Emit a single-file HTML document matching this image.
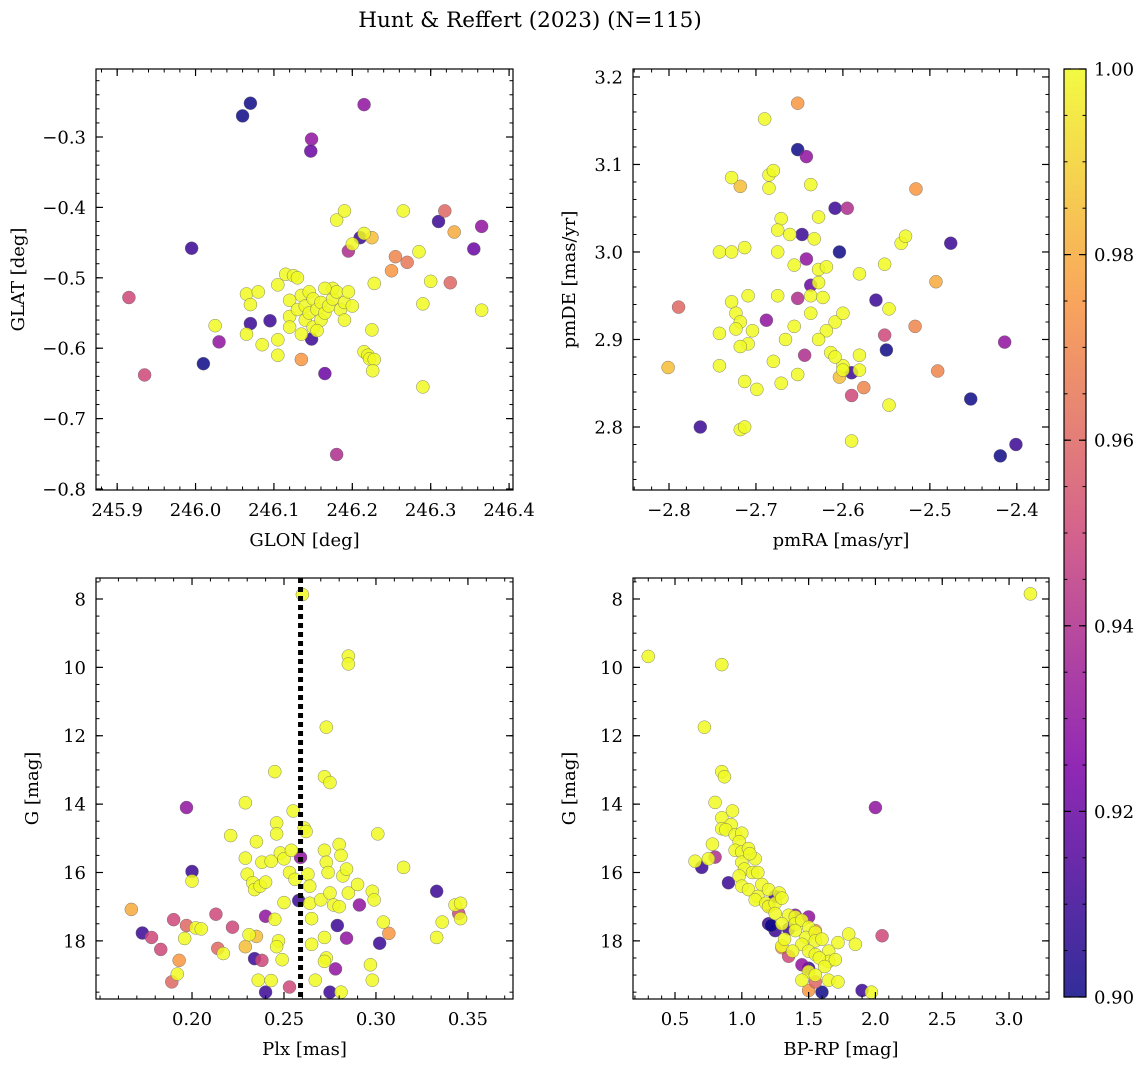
<!DOCTYPE html>
<html><head><meta charset="utf-8">
<style>
body{margin:0;background:#fff;}
svg{display:block;}
text{font-family:"DejaVu Serif","Liberation Serif",serif;fill:#000;}
</style></head>
<body>
<svg id="fig" width="1148" height="1068" xmlns="http://www.w3.org/2000/svg">
<text x="530" y="27" font-size="21.5" text-anchor="middle">Hunt &amp; Reffert (2023) (N=115)</text>
</svg>
<script>
// ---- data: panel 1 (GLON, GLAT, probability)
const glon=[246.06,246.07,246.215,246.148,246.147,245.995,245.915,245.935,246.01,246.03,246.07,246.095,246.165,246.18,246.195,246.21,246.31,246.318,246.33,246.325,246.355,246.365,246.25,246.255,246.27,246.225,246.135,246.148,
246.18,246.19,246.2,246.215,246.265,246.285,246.3,246.228,246.29,246.365,246.29,246.225,246.215,246.22,246.222,246.228,246.226,246.025,246.065,246.07,246.065,246.08,246.085,246.105,246.105,246.105,246.115,246.125,246.13,246.12,246.12,246.12,246.13,246.135,246.14,246.14,246.145,246.145,246.15,246.15,246.155,246.16,246.16,246.165,246.17,246.175,246.175,246.18,246.185,246.19,246.19,246.2,246.155,246.135,246.195,246.165];
const glat=[-0.27,-0.252,-0.254,-0.303,-0.32,-0.458,-0.528,-0.638,-0.622,-0.591,-0.565,-0.561,-0.636,-0.751,-0.462,-0.443,-0.42,-0.405,-0.435,-0.507,-0.459,-0.427,-0.49,-0.47,-0.478,-0.443,-0.616,-0.587,
-0.418,-0.405,-0.452,-0.437,-0.405,-0.463,-0.505,-0.508,-0.537,-0.546,-0.655,-0.574,-0.605,-0.61,-0.615,-0.616,-0.632,-0.568,-0.523,-0.538,-0.58,-0.52,-0.595,-0.51,-0.588,-0.61,-0.495,-0.497,-0.5,-0.532,-0.555,-0.57,-0.545,-0.525,-0.54,-0.56,-0.52,-0.55,-0.53,-0.57,-0.545,-0.535,-0.56,-0.55,-0.54,-0.53,-0.515,-0.52,-0.545,-0.535,-0.56,-0.54,-0.575,-0.58,-0.52,-0.515];
const prob1=[0.90,0.90,0.93,0.93,0.92,0.91,0.95,0.95,0.90,0.93,0.91,0.91,0.92,0.94,0.94,0.91,0.91,0.96,0.98,0.96,0.92,0.93,0.975,0.97,0.965,0.985,0.975,0.91];
// ---- data: panel 2 (pmRA, pmDE, probability)
const pmra=[-2.652,-2.652,-2.642,-2.609,-2.595,-2.604,-2.647,-2.642,-2.476,-2.516,-2.493,-2.562,-2.552,-2.550,-2.517,-2.491,-2.414,-2.453,-2.419,-2.401,-2.789,-2.801,-2.764,-2.590,-2.576,-2.590,-2.604,-2.644,-2.652,-2.688,-2.718,-2.637,
-2.690,-2.728,-2.685,-2.680,-2.637,-2.685,-2.671,-2.628,-2.675,-2.661,-2.633,-2.742,-2.728,-2.713,-2.675,-2.656,-2.628,-2.581,-2.552,-2.533,-2.528,-2.619,-2.628,-2.637,-2.623,-2.637,-2.656,-2.666,-2.675,-2.709,-2.728,-2.723,-2.718,-2.723,-2.704,-2.709,-2.718,-2.742,-2.742,-2.713,-2.699,-2.680,-2.671,-2.652,-2.609,-2.619,-2.614,-2.600,-2.609,-2.581,-2.600,-2.581,-2.547,-2.590,-2.718,-2.713,-2.547,-2.600,-2.628];
const pmde=[3.17,3.117,3.109,3.05,3.05,3.0,3.02,2.992,3.01,3.072,2.966,2.945,2.905,2.888,2.915,2.864,2.897,2.832,2.767,2.78,2.937,2.868,2.8,2.862,2.845,2.836,2.857,2.882,2.947,2.922,3.075,2.962,
3.152,3.085,3.088,3.093,3.077,3.073,3.038,3.04,3.025,3.02,3.015,3.0,3.0,3.005,3.0,2.985,2.98,2.975,2.986,3.01,3.018,2.983,2.965,2.95,2.948,2.93,2.915,2.9,2.95,2.95,2.943,2.93,2.92,2.912,2.91,2.895,2.892,2.907,2.87,2.852,2.843,2.875,2.85,2.86,2.92,2.91,2.885,2.87,2.88,2.882,2.865,2.865,2.825,2.784,2.797,2.8,2.935,2.93,2.9];
const prob2=[0.975,0.90,0.93,0.91,0.94,0.90,0.91,0.93,0.91,0.975,0.98,0.91,0.95,0.90,0.97,0.97,0.93,0.90,0.90,0.91,0.96,0.985,0.91,0.91,0.97,0.95,0.985,0.94,0.94,0.93,0.985,0.92];
// ---- data: panel 3 (Plx, G, probability)
const plx=[0.197,0.2,0.167,0.173,0.178,0.183,0.19,0.197,0.193,0.189,0.213,0.222,0.214,0.229,0.234,0.238,0.24,0.24,0.253,0.258,0.259,0.275,0.278,0.279,0.284,0.291,0.302,0.307,0.333,0.345,0.235,
0.26,0.285,0.285,0.273,0.272,0.275,0.245,0.229,0.2,0.196,0.192,0.202,0.205,0.217,0.221,0.229,0.23,0.235,0.238,0.233,0.234,0.237,0.24,0.243,0.246,0.246,0.248,0.25,0.253,0.254,0.255,0.256,0.245,0.247,0.246,0.249,0.243,0.236,0.231,0.25,0.261,0.262,0.263,0.264,0.264,0.265,0.265,0.267,0.27,0.272,0.273,0.274,0.275,0.277,0.28,0.28,0.281,0.282,0.284,0.285,0.272,0.273,0.272,0.281,0.29,0.297,0.298,0.299,0.298,0.301,0.304,0.315,0.333,0.336,0.343,0.346,0.346];
const gmag3=[14.1,15.97,17.08,17.77,17.9,18.25,17.38,17.55,18.57,19.2,17.22,17.6,18.22,18.17,18.52,18.57,19.5,17.28,19.35,16.82,15.56,19.5,18.82,17.55,17.92,16.95,18.07,17.78,16.55,17.2,17.87,
7.87,9.67,9.9,11.75,13.2,13.37,13.05,13.96,16.25,17.93,18.97,17.62,17.65,18.37,14.92,15.58,16.05,15.1,15.7,16.3,16.5,16.4,16.28,15.67,14.55,14.87,15.43,15.6,16.0,15.35,14.2,16.2,17.37,18.0,18.17,18.55,19.16,19.15,17.82,16.88,14.7,14.8,16.05,16.4,16.9,17.35,18.1,19.15,16.8,15.35,15.7,16.0,16.6,16.95,17.0,15.18,15.5,16.1,15.9,16.6,17.9,18.5,18.6,19.5,16.35,18.7,16.55,16.8,19.15,14.87,17.45,15.85,17.9,17.45,16.95,16.9,17.35];
const prob3=[0.93,0.91,0.98,0.91,0.95,0.95,0.95,0.96,0.975,0.96,0.95,0.95,0.96,0.985,0.91,0.95,0.91,0.93,0.95,0.91,0.93,0.91,0.93,0.91,0.93,0.93,0.91,0.975,0.91,0.95,0.985];
const plxLine=0.259;
// ---- data: panel 4 (BP-RP, G, probability)
const bprp=[2.0,0.7,0.8,0.9,1.25,1.2,1.2,1.25,1.35,1.3,1.35,1.4,1.5,1.55,1.5,1.45,1.5,1.6,1.9,2.05,1.55,1.22,
3.16,0.3,0.85,0.72,0.85,0.87,0.8,0.85,0.93,0.92,0.85,0.88,0.95,1.0,0.98,0.95,1.0,1.05,1.1,0.65,0.78,0.75,1.0,1.02,1.08,0.98,1.0,1.05,1.15,1.2,1.12,1.1,1.18,1.2,1.25,1.28,1.3,1.25,1.35,1.4,1.3,1.4,1.45,1.5,1.48,1.55,1.55,1.6,1.45,1.5,1.55,1.65,1.72,1.8,1.85,1.65,1.7,1.58,1.62,1.5,1.55,1.45,1.65,1.72,1.97,1.3,1.32,1.38,1.4,1.06,1.12];
const gmag4=[14.1,15.85,15.55,16.3,16.7,16.97,17.5,17.7,17.65,18.2,18.45,17.25,17.3,17.7,18.8,18.7,19.45,19.5,19.45,17.85,19.2,17.55,
7.85,9.68,9.92,11.75,13.05,13.2,13.95,14.4,14.2,14.6,14.72,14.75,14.9,14.85,15.1,15.35,15.4,15.3,15.6,15.67,15.17,15.6,15.7,15.9,16.0,16.1,16.4,16.5,16.35,16.5,16.7,16.8,16.9,17.0,16.9,16.6,16.75,17.2,17.25,17.3,17.5,17.5,17.4,17.6,17.9,17.75,18.0,17.95,18.1,18.3,18.4,18.3,18.05,17.8,18.1,18.6,18.55,18.5,18.75,18.9,19.0,19.15,19.15,19.2,19.5,18.15,17.95,18.3,17.7,15.45,16.0];
const prob4=[0.93,0.91,0.94,0.91,0.91,0.94,0.91,0.91,0.91,0.975,0.95,0.93,0.93,0.975,0.91,0.93,0.975,0.90,0.91,0.95,0.96,0.90];
const cbTicks=[0.90,0.92,0.94,0.96,0.98,1.00];

const NS="http://www.w3.org/2000/svg";
const svg=document.getElementById('fig');
const FS=18;
function el(tag,attrs,parent){const e=document.createElementNS(NS,tag);for(const k in attrs)e.setAttribute(k,attrs[k]);(parent||svg).appendChild(e);return e;}
const stops=[[13,8,135],[126,3,168],[204,71,120],[248,149,64],[240,249,33]];
function cmap(p){let t=(p-0.9)/0.1;t=Math.max(0,Math.min(1,t));const s=t*4,i=Math.min(3,Math.floor(s)),f=s-i;const a=stops[i],b=stops[i+1];return 'rgb('+a.map((v,k)=>Math.round(v+(b[k]-v)*f)).join(',')+')';}
function fmt(v,d){const s=Math.abs(v).toFixed(d);return (v<-1e-9?'\u2212':'')+s;}

function panel(P){
  const g=el('g',{});
  
  
  const sx=v=>P.x0+(v-P.xd[0])/(P.xd[1]-P.xd[0])*(P.x1-P.x0);
  const sy=v=>P.inv? P.y0+(v-P.yd[0])/(P.yd[1]-P.yd[0])*(P.y1-P.y0) : P.y1-(v-P.yd[0])/(P.yd[1]-P.yd[0])*(P.y1-P.y0);
  const pts=el('g',{},g);
  
  
  for(let i=0;i<P.xs.length;i++){
    const p=i<P.pr.length?P.pr[i]:1.0;
    const c=el('circle',{cx:sx(P.xs[i]),cy:sy(P.ys[i]),r:6.5,fill:cmap(p),'fill-opacity':0.85,stroke:'#666','stroke-width':0.4},pts);
    
    
  }
  if(P.vline!==undefined){
    const l=el('line',{x1:sx(P.vline),x2:sx(P.vline),y1:P.y0,y2:P.y1,stroke:'#000','stroke-width':5,'stroke-dasharray':'5,4'},g);
    
    
  }
  const fr=el('rect',{x:P.x0,y:P.y0,width:P.x1-P.x0,height:P.y1-P.y0,fill:'none',stroke:'#000','stroke-width':1.2},g);
  
  
  const eps=1e-9;
  for(let v=Math.ceil(P.xd[0]/P.xm-eps)*P.xm;v<=P.xd[1]+eps;v+=P.xm){const X=sx(v);el('line',{x1:X,x2:X,y1:P.y1,y2:P.y1-3.5,stroke:'#000'},g);el('line',{x1:X,x2:X,y1:P.y0,y2:P.y0+3.5,stroke:'#000'},g);}
  const ylo=Math.min(P.yd[0],P.yd[1]),yhi=Math.max(P.yd[0],P.yd[1]);
  for(let v=Math.ceil(ylo/P.ym-eps)*P.ym;v<=yhi+eps;v+=P.ym){const Y=sy(v);el('line',{x1:P.x0,x2:P.x0+3.5,y1:Y,y2:Y,stroke:'#000'},g);el('line',{x1:P.x1,x2:P.x1-3.5,y1:Y,y2:Y,stroke:'#000'},g);}
  P.xt.forEach(v=>{const X=sx(v);el('line',{x1:X,x2:X,y1:P.y1,y2:P.y1-7,stroke:'#000','stroke-width':1.2},g);el('line',{x1:X,x2:X,y1:P.y0,y2:P.y0+7,stroke:'#000','stroke-width':1.2},g);
    const t=el('text',{x:X,y:P.y1+26,'font-size':FS,'text-anchor':'middle'},g);t.textContent=fmt(v,P.xdp);
    
    });
  P.yt.forEach(v=>{const Y=sy(v);el('line',{x1:P.x0,x2:P.x0+7,y1:Y,y2:Y,stroke:'#000','stroke-width':1.2},g);el('line',{x1:P.x1,x2:P.x1-7,y1:Y,y2:Y,stroke:'#000','stroke-width':1.2},g);
    const t=el('text',{x:P.x0-10,y:Y+6.5,'font-size':FS,'text-anchor':'end'},g);t.textContent=fmt(v,P.ydp);
    
    });
  const xl=el('text',{x:(P.x0+P.x1)/2,y:P.y1+56,'font-size':FS,'text-anchor':'middle'},g);xl.textContent=P.xl;
  
  
  const yx=P.x0-P.ylOff,yy=(P.y0+P.y1)/2;
  const yl=el('text',{x:yx,y:yy,'font-size':FS,'text-anchor':'middle',transform:'rotate(-90 '+yx+' '+yy+')'},g);yl.textContent=P.yl;
  
  
}
panel({name:'position-panel',x0:96,x1:513,y0:69,y1:490,xd:[245.873,246.405],yd:[-0.8014,-0.2034],xs:glon,ys:glat,pr:prob1,
 xt:[245.9,246.0,246.1,246.2,246.3,246.4],yt:[-0.8,-0.7,-0.6,-0.5,-0.4,-0.3],xm:0.02,ym:0.02,xdp:1,ydp:1,xl:'GLON [deg]',yl:'GLAT [deg]',ylOff:72});
panel({name:'proper-motion-panel',x0:633,x1:1049,y0:69,y1:490,xd:[-2.8414,-2.363],yd:[2.728,3.2091],xs:pmra,ys:pmde,pr:prob2,
 xt:[-2.8,-2.7,-2.6,-2.5,-2.4],yt:[2.8,2.9,3.0,3.1,3.2],xm:0.02,ym:0.02,xdp:1,ydp:1,xl:'pmRA [mas/yr]',yl:'pmDE [mas/yr]',ylOff:58});
panel({name:'parallax-magnitude-panel',x0:96,x1:513,y0:578,y1:999,xd:[0.1478,0.3745],yd:[7.386,19.70],inv:true,xs:plx,ys:gmag3,pr:prob3,vline:plxLine,
 xt:[0.20,0.25,0.30,0.35],yt:[8,10,12,14,16,18],xm:0.01,ym:0.5,xdp:2,ydp:0,xl:'Plx [mas]',yl:'G [mag]',ylOff:58});
panel({name:'color-magnitude-panel',x0:633,x1:1049,y0:578,y1:999,xd:[0.1856,3.299],yd:[7.386,19.70],inv:true,xs:bprp,ys:gmag4,pr:prob4,
 xt:[0.5,1.0,1.5,2.0,2.5,3.0],yt:[8,10,12,14,16,18],xm:0.1,ym:0.5,xdp:1,ydp:0,xl:'BP-RP [mag]',yl:'G [mag]',ylOff:58});

// colorbar
const cb=el('g',{});


const defs=el('defs',{},cb);
const lg=el('linearGradient',{id:'cbg',x1:0,y1:1,x2:0,y2:0},defs);
for(let i=0;i<=20;i++){const p=0.9+0.1*i/20;el('stop',{offset:i/20,'stop-color':cmap(p),'stop-opacity':0.85},lg);}
const cx0=1064,cx1=1086,cy0=69,cy1=997;
el('rect',{x:cx0,y:cy0,width:cx1-cx0,height:cy1-cy0,fill:'url(#cbg)',stroke:'#000','stroke-width':1.2},cb);
const cby=v=>cy1-(v-0.9)/0.1*(cy1-cy0);
for(let v=0.9;v<=1.0001;v+=0.005){const Y=cby(v);el('line',{x1:cx1,x2:cx1-3.5,y1:Y,y2:Y,stroke:'#000'},cb);el('line',{x1:cx0,x2:cx0+3.5,y1:Y,y2:Y,stroke:'#000'},cb);}
cbTicks.forEach(v=>{const Y=cby(v);el('line',{x1:cx1,x2:cx1-7,y1:Y,y2:Y,stroke:'#000','stroke-width':1.2},cb);el('line',{x1:cx0,x2:cx0+7,y1:Y,y2:Y,stroke:'#000','stroke-width':1.2},cb);
  const t=el('text',{x:cx1+8,y:Y+6.5,'font-size':FS},cb);t.textContent=v.toFixed(2);
  
  });
</script>
</body></html>
